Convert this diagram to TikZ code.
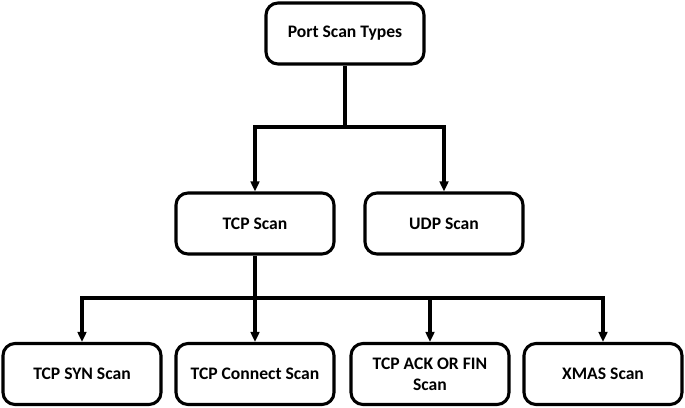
\documentclass[tikz,border=0pt]{standalone}
\usepackage{fontspec}
\setmainfont{Carlito}
\usetikzlibrary{arrows.meta}
\begin{document}
\begin{tikzpicture}[x=0.75pt,y=-0.75pt,
  box/.style={draw=black,line width=2.3pt,rounded corners=9pt,minimum width=158*0.75pt,minimum height=61*0.75pt,align=center,font=\bfseries\fontsize{13.2}{15.5}\selectfont,inner sep=2pt},
  link/.style={line width=2.3pt},
  arr/.style={line width=2.3pt,-{Triangle[length=7.5pt,width=6.5pt]}}]
\useasboundingbox (0,0) rectangle (685,407);
\node[box] (top) at (345,33.5) {Port Scan Types};
\node[box] (tcp) at (255,223.5) {TCP Scan};
\node[box] (udp) at (444,223.5) {UDP Scan};
\node[box] (syn) at (82,374) {TCP SYN Scan};
\node[box] (conn) at (255,374) {TCP Connect Scan};
\node[box] (ack) at (430,374) {TCP ACK OR FIN\\Scan};
\node[box] (xmas) at (603,374) {XMAS Scan};
\coordinate (j1) at (345,127);
\coordinate (j2) at (255,298);
\draw[link] (top) -- (j1);
\draw[arr] (j1) -| (tcp);
\draw[arr] (j1) -| (udp);
\draw[arr] (tcp) -- (conn);
\draw[arr] (j2) -| (syn);
\draw[arr] (j2) -| (ack);
\draw[arr] (j2) -| (xmas);
\end{tikzpicture}
\end{document}
